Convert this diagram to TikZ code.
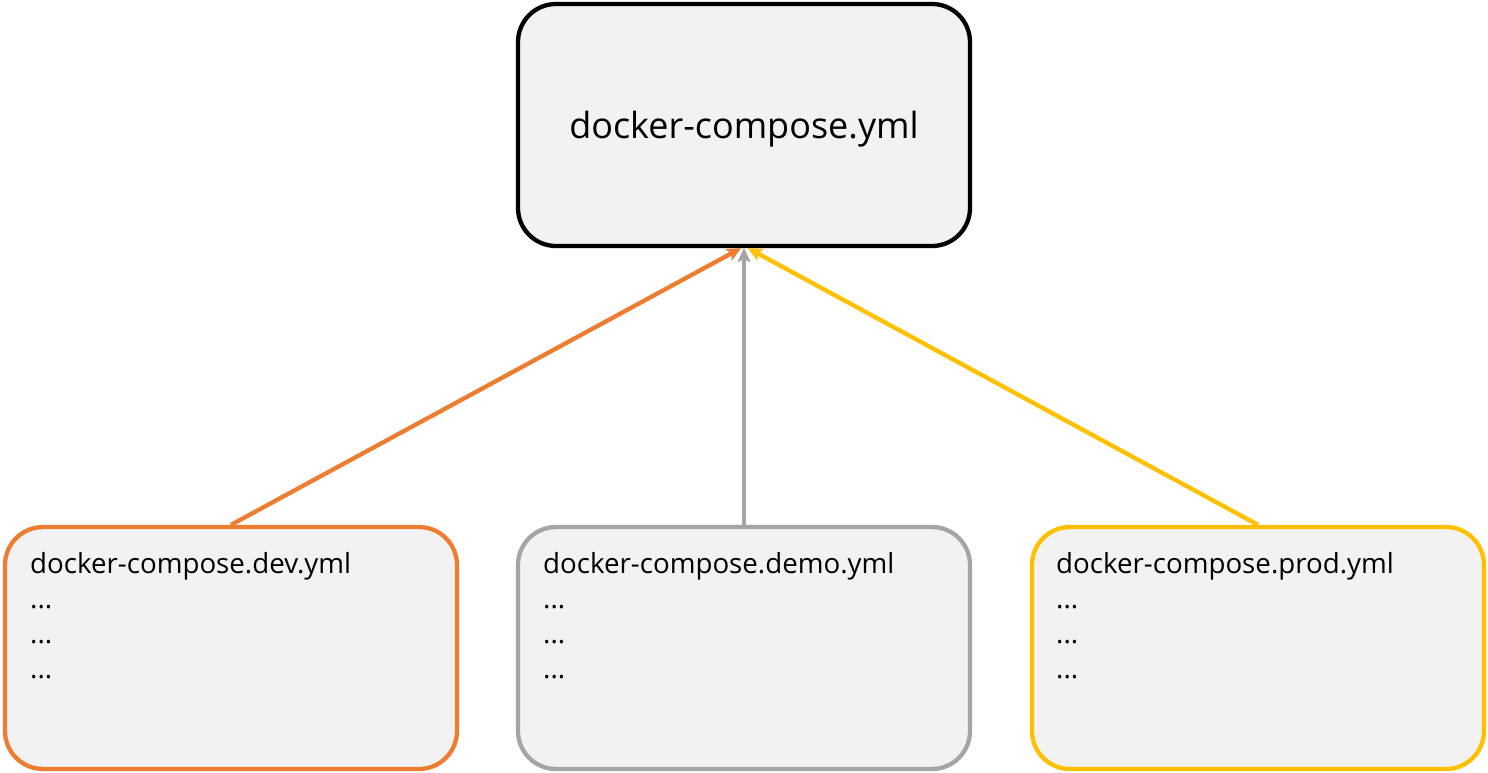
\documentclass[tikz,border=0pt]{standalone}
\usepackage{fontspec}
\setmainfont{Open Sans}
\usetikzlibrary{arrows.meta}

\definecolor{boxfill}{HTML}{F2F2F2}
\definecolor{devorange}{HTML}{ED7D31}
\definecolor{demogray}{HTML}{A5A5A5}
\definecolor{prodyellow}{HTML}{FFC000}

\begin{document}
\begin{tikzpicture}[x=1pt,y=-1pt]
    \tikzstyle{filebox}=[draw, fill=boxfill, line width=4.3pt, rounded corners=38pt,
        minimum width=452pt, minimum height=242pt, inner sep=0pt]
    \tikzstyle{filetext}=[anchor=north west, align=left, inner sep=0pt,
        font=\fontsize{27.7}{35}\selectfont]
    \tikzstyle{link}=[line width=4.3pt, -{Stealth[length=14pt,width=13pt,inset=3pt]}]
    \useasboundingbox (0,0) rectangle (1488,773);
    % base file
    \node [filebox, draw=black] (base) at (744,125) {};
    \node [inner sep=0pt, font=\fontsize{36}{42}\selectfont] (basetext) at (744,129)
        {docker-compose.yml};
    % override files
    \node [filebox, draw=devorange] (dev) at (231,648) {};
    \node [filebox, draw=demogray] (demo) at (744,648) {};
    \node [filebox, draw=prodyellow] (prod) at (1258,648) {};
    \node [filetext] (devtext) at (30,552) {docker-compose.dev.yml\\...\\...\\...};
    \node [filetext] (demotext) at (543,552) {docker-compose.demo.yml\\...\\...\\...};
    \node [filetext] (prodtext) at (1056,552) {docker-compose.prod.yml\\...\\...\\...};
    % links
    \draw [link, devorange] (dev.north) -- ([xshift=-3pt]base.south);
    \draw [link, demogray] (demo.north) -- (base.south);
    \draw [link, prodyellow] (prod.north) -- ([xshift=4pt]base.south);
\end{tikzpicture}
\end{document}
